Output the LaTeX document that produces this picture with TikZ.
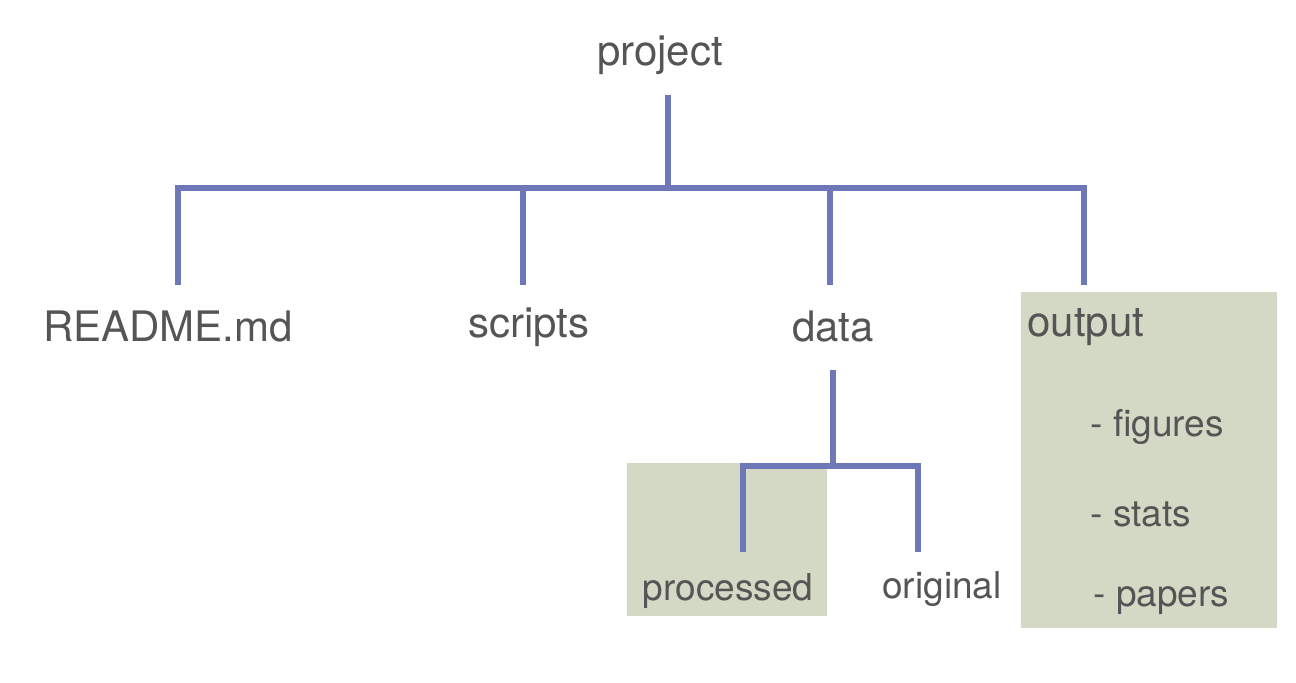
\documentclass[tikz,border=0pt]{standalone}
\usepackage{fontspec}
\setmainfont{TeX Gyre Heros}
\definecolor{ln}{HTML}{6E78B8}
\definecolor{bx}{HTML}{D3D9C5}
\definecolor{tx}{HTML}{555555}
\begin{document}
\begin{tikzpicture}[x=0.5pt,y=-0.5pt,
  lab/.style={text=tx,font=\fontsize{21}{24}\selectfont,inner sep=0pt},
  sub/.style={text=tx,font=\fontsize{18.5}{22}\selectfont,inner sep=0pt},
  br/.style={draw=ln,line width=3pt}]
\useasboundingbox (0,0) rectangle (1296,683);
\fill[bx] (1021,292) rectangle (1277,628);
\fill[bx] (627,463) rectangle (827,616);
\node[lab] (project) at (660,55) {project};
\node[lab] (readme) at (168,327) {README.md};
\node[lab] (scripts) at (529,327) {scripts};
\node[lab] (data) at (833,327) {data};
\node[lab,anchor=west] (output) at (1027,327) {output};
\node[sub,anchor=west] (fig) at (1090,427) {- figures};
\node[sub,anchor=west] (stats) at (1090,514) {- stats};
\node[sub,anchor=west] (papers) at (1093,601) {- papers};
\node[sub] (proc) at (728,591) {processed};
\node[sub] (orig) at (942,589) {original};
\coordinate (t1) at (668,95);
\coordinate (t2) at (668,188);
\draw[br] (t1) -- (t2);
\draw[br] (178,285) -- (178,188) -- (1084,188) -- (1084,285);
\draw[br] (523,188) -- (523,285);
\draw[br] (830,188) -- (830,285);
\draw[br] (833,370) -- (833,466);
\draw[br] (743,552) -- (743,466) -- (918,466) -- (918,552);
\end{tikzpicture}
\end{document}
